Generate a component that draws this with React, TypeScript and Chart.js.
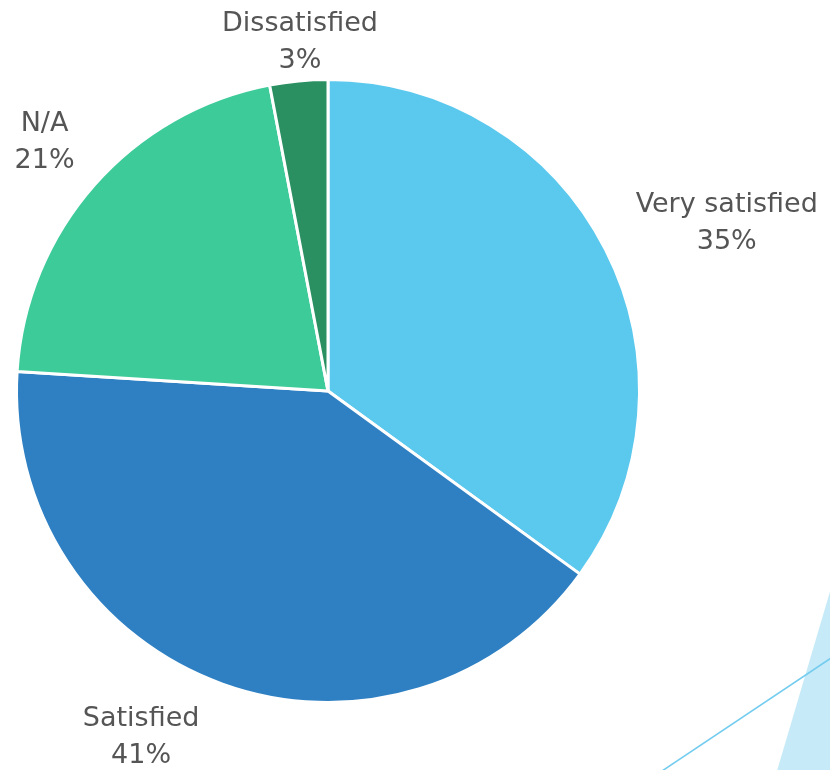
import React, { useEffect, useRef } from "react";
import { Chart, registerables } from "chart.js";

Chart.register(...registerables);

const categories = ["Very satisfied", "Satisfied", "N/A", "Dissatisfied"];
const values = [35, 41, 21, 3];
const percentLabels = ["35%", "41%", "21%", "3%"];
const sliceColors = ["#5BC8EE", "#2E80C3", "#3DCB9A", "#2A9062"];
// label anchor offsets, in units of the pie radius, relative to pie centre
const labelOffsets = [
  [1.28, -0.54],
  [-0.6, 1.11],
  [-0.91, -0.8],
  [-0.09, -1.12],
];

const labelPlugin = {
  id: "outsideLabels",
  beforeDraw(chart: any) {
    const ctx = chart.ctx;
    ctx.save();
    // decorative slide shapes
    ctx.fillStyle = "#C6EAF8";
    ctx.beginPath();
    ctx.moveTo(831, 588);
    ctx.lineTo(777, 771);
    ctx.lineTo(831, 771);
    ctx.closePath();
    ctx.fill();
    ctx.strokeStyle = "#74CCEF";
    ctx.lineWidth = 1.6;
    ctx.beginPath();
    ctx.moveTo(662, 771);
    ctx.lineTo(831, 658);
    ctx.stroke();
    ctx.restore();
  },
  afterDraw(chart: any) {
    const ctx = chart.ctx;
    const meta = chart.getDatasetMeta(0);
    const arc0 = meta.data[0];
    if (!arc0) return;
    const cx = arc0.x;
    const cy = arc0.y;
    const r = arc0.outerRadius;
    ctx.save();
    ctx.fillStyle = "#555555";
    ctx.font = "27px 'DejaVu Sans'";
    ctx.textAlign = "center";
    ctx.textBaseline = "middle";
    categories.forEach((c, i) => {
      const [fx, fy] = labelOffsets[i];
      const x = cx + fx * r;
      const y = cy + fy * r;
      ctx.fillText(c, x, y - 18);
      ctx.fillText(percentLabels[i], x, y + 19);
    });
    ctx.restore();
  },
};

export default function App() {
  const ref = useRef<HTMLCanvasElement>(null);
  useEffect(() => {
    if (!ref.current) return;
    const chart = new Chart(ref.current, {
      type: "pie",
      data: {
        labels: categories,
        datasets: [
          {
            data: values,
            backgroundColor: sliceColors,
            borderColor: "#FFFFFF",
            borderWidth: 3,
          },
        ],
      },
      options: {
        animation: false,
        responsive: true,
        maintainAspectRatio: false,
        layout: { padding: { left: 15, top: 78, right: 189, bottom: 66 } },
        plugins: {
          legend: { display: false },
          tooltip: { enabled: false },
        },
      },
      plugins: [labelPlugin],
    });
    return () => chart.destroy();
  }, []);
  return (
    <div style={{ position: "fixed", left: 0, top: 0, width: 830, height: 770, background: "#FFFFFF" }}>
      <canvas ref={ref} />
    </div>
  );
}
